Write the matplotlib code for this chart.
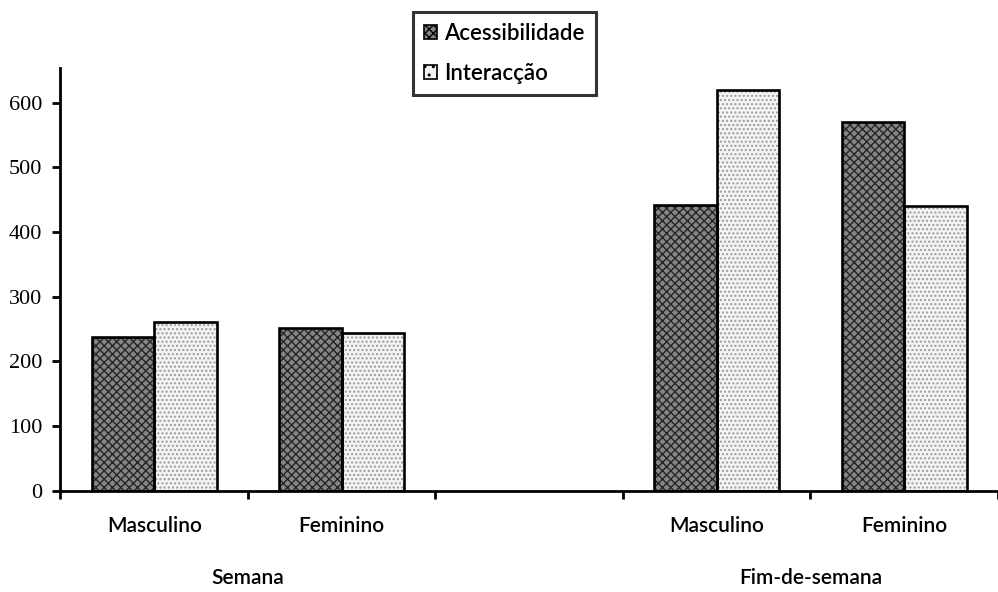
import numpy as np
import matplotlib
matplotlib.use('Agg')
import matplotlib.pyplot as plt
import matplotlib.transforms as mtransforms
from matplotlib.patches import Patch

# dados
categorias = ['Masculino', 'Feminino', '', 'Masculino', 'Feminino']
grupos = ['Semana', 'Fim-de-semana']
grupo_pos = [0.5, 3.5]
acessibilidade = [237, 251, np.nan, 442, 570]
interaccao = [261, 244, np.nan, 619, 440]
series = ['Acessibilidade', 'Interacção']

sans = 'Lato'
serif = 'Liberation Serif'

fig = plt.figure(figsize=(9.98, 5.92), dpi=100)
ax = fig.add_axes([0.0606, 0.1711, 0.9394, 0.7135])

x = np.arange(len(categorias))
w = 1 / 3

# cor escura com trama cruzada, cor clara pontilhada
ax.bar(x - w / 2, acessibilidade, w, color='#858585', edgecolor='#262626',
       hatch='xxxx', linewidth=0)
ax.bar(x + w / 2, interaccao, w, color='#f3f3f3', edgecolor='#9a9a9a',
       hatch='....', linewidth=0)
# contornos pretos por cima
ax.bar(x - w / 2, acessibilidade, w, fill=False, edgecolor='black', linewidth=1.9)
ax.bar(x + w / 2, interaccao, w, fill=False, edgecolor='black', linewidth=1.9)

ax.set_xlim(-0.5, 4.46)
ax.set_ylim(0, 653)

for s in ['top', 'right']:
    ax.spines[s].set_visible(False)
for s in ['left', 'bottom']:
    ax.spines[s].set_linewidth(2)

ax.set_yticks(range(0, 700, 100))
ax.tick_params(axis='y', direction='out', length=6, width=2, pad=7,
               labelsize=16)
for lbl in ax.get_yticklabels():
    lbl.set_fontfamily(serif)

ax.set_xticks(np.arange(-0.5, 5, 1))
ax.set_xticklabels([])
ax.tick_params(axis='x', direction='out', length=6, width=2)

trans = mtransforms.blended_transform_factory(ax.transData, fig.transFigure)
for xi, nome in zip(x, categorias):
    ax.text(xi, 1 - 526 / 592, nome, transform=trans, ha='center', va='center',
            fontsize=15, fontfamily=sans, fontweight='semibold', clip_on=False)
for xp, g in zip(grupo_pos, grupos):
    ax.text(xp, 1 - 578 / 592, g, transform=trans, ha='center', va='center',
            fontsize=15, fontfamily=sans, fontweight='semibold', clip_on=False)

handles = [Patch(facecolor='#858585', edgecolor='black', hatch='xxxx', linewidth=1.2),
           Patch(facecolor='#f3f3f3', edgecolor='black', hatch='..', linewidth=1.2)]
leg = fig.legend(handles, series, loc='upper left',
                 bbox_to_anchor=(413 / 998, 1 - 12 / 592), borderaxespad=0,
                 frameon=True, fancybox=False, edgecolor='black',
                 prop={'family': sans, 'size': 16, 'weight': 'semibold'},
                 handlelength=0.6, handleheight=0.6, handletextpad=0.3,
                 labelspacing=0.85, borderpad=0.5)
leg.get_frame().set_linewidth(2.2)

fig.savefig('out.png', dpi=100)
